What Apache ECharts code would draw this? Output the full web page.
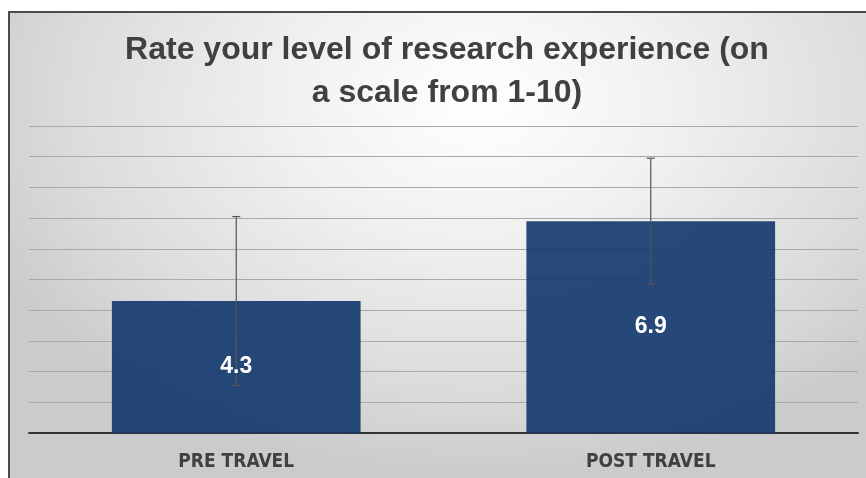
<!DOCTYPE html>
<html>
<head>
<meta charset="utf-8">
<script src="https://cdn.jsdelivr.net/npm/echarts@6/dist/echarts.min.js"></script>
<style>
html,body{margin:0;padding:0;background:#fff;overflow:hidden;}
#wrap{position:relative;width:866px;height:478px;overflow:hidden;background:#fff;}
#frame{position:absolute;left:8px;top:11px;width:900px;height:500px;border-left:2px solid #4a4a4a;border-top:2px solid #4a4a4a;
background:radial-gradient(ellipse 60% 75% at 52% 18%, #ffffff 0%, #f1f1f1 35%, #dcdcdc 75%, #cbcbcb 100%);}
#chart{position:absolute;left:0;top:0;width:866px;height:478px;}
</style>
</head>
<body>
<div id="wrap"><div id="frame"></div><div id="chart"></div></div>
<script>
const titleText = "Rate your level of research experience (on\na scale from 1-10)";
const categories = ["PRE TRAVEL", "POST TRAVEL"];
const means = [4.3, 6.9];
const errors = [2.75, 2.05];
const yTicks = {min: 0, max: 10, interval: 1};

const errData = categories.map((c, i) => [i, means[i] - errors[i], means[i] + errors[i]]);

const chart = echarts.init(document.getElementById('chart'), null, {renderer: 'canvas'});
chart.setOption({
  backgroundColor: 'transparent',
  animation: false,
  title: {
    text: titleText,
    left: 442,
    textAlign: 'center',
    top: 24,
    textStyle: {
      fontFamily: 'Liberation Sans',
      fontWeight: 'bold',
      fontSize: 32,
      lineHeight: 43,
      color: '#404040'
    }
  },
  grid: {left: 29, right: 8, top: 126, bottom: 45},
  xAxis: {
    type: 'category',
    data: categories,
    axisLine: {lineStyle: {color: '#333333', width: 2}},
    axisTick: {show: false},
    axisLabel: {
      margin: 20,
      fontFamily: 'Liberation Sans Narrow, DejaVu Sans Condensed, Liberation Sans',
      fontWeight: 'bold',
      fontSize: 19,
      color: '#404040'
    }
  },
  yAxis: {
    type: 'value',
    min: yTicks.min,
    max: yTicks.max,
    interval: yTicks.interval,
    axisLabel: {show: false},
    axisLine: {show: false},
    axisTick: {show: false},
    splitLine: {lineStyle: {color: '#a9a9a9', width: 1}}
  },
  series: [
    {
      type: 'bar',
      data: means,
      barWidth: '60%',
      itemStyle: {color: '#163b6f', opacity: 0.92},
      z: 2
    },
    {
      type: 'custom',
      data: errData,
      z: 5,
      renderItem: function (params, api) {
        const x = api.value(0);
        const lo = api.coord([x, api.value(1)]);
        const hi = api.coord([x, api.value(2)]);
        const w = 4;
        const style = {stroke: '#555555', lineWidth: 1.2};
        return {
          type: 'group',
          children: [
            {type: 'line', shape: {x1: hi[0], y1: hi[1], x2: lo[0], y2: lo[1]}, style: style},
            {type: 'line', shape: {x1: hi[0] - w, y1: hi[1], x2: hi[0] + w, y2: hi[1]}, style: style},
            {type: 'line', shape: {x1: lo[0] - w, y1: lo[1], x2: lo[0] + w, y2: lo[1]}, style: style}
          ]
        };
      }
    },
    {
      type: 'bar',
      data: means,
      barWidth: '60%',
      barGap: '-100%',
      itemStyle: {color: 'rgba(0,0,0,0)'},
      label: {
        show: true,
        position: 'inside',
        fontFamily: 'Liberation Sans',
        fontWeight: 'bold',
        fontSize: 23,
        color: '#ffffff',
        formatter: p => p.value.toFixed(1)
      },
      silent: true,
      z: 10
    }
  ]
});
</script>
</body>
</html>
